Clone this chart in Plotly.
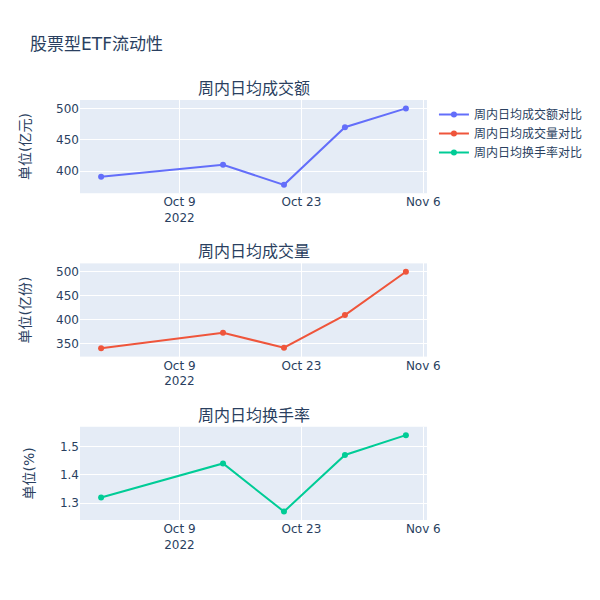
import plotly.graph_objects as go
from plotly.subplots import make_subplots

dates = ["2022-09-30", "2022-10-14", "2022-10-21", "2022-10-28", "2022-11-04"]
amount = [391, 410, 378, 470, 500]
volume = [341, 373, 342, 410, 500]
turnover = [1.32, 1.44, 1.27, 1.47, 1.54]

subplot_titles = ["周内日均成交额", "周内日均成交量", "周内日均换手率"]
series_names = ["周内日均成交额对比", "周内日均成交量对比", "周内日均换手率对比"]
y_titles = ["单位(亿元)", "单位(亿份)", "单位(%)"]

fig = make_subplots(rows=3, cols=1, subplot_titles=subplot_titles, vertical_spacing=0.167)
for i, (vals, name) in enumerate(zip([amount, volume, turnover], series_names)):
    fig.add_trace(go.Scatter(x=dates, y=vals, mode="lines+markers", name=name), row=i + 1, col=1)
    fig.update_yaxes(title_text=y_titles[i], title_standoff=22, row=i + 1, col=1)

fig.update_layout(
    title_text="股票型ETF流动性",
    width=600,
    height=600,
    font=dict(family="DejaVu Sans, Noto Sans CJK SC"),
)
fig.write_html(
    "out.html",
    config={"displayModeBar": False},
    post_script="document.body.style.margin='0';",
)
